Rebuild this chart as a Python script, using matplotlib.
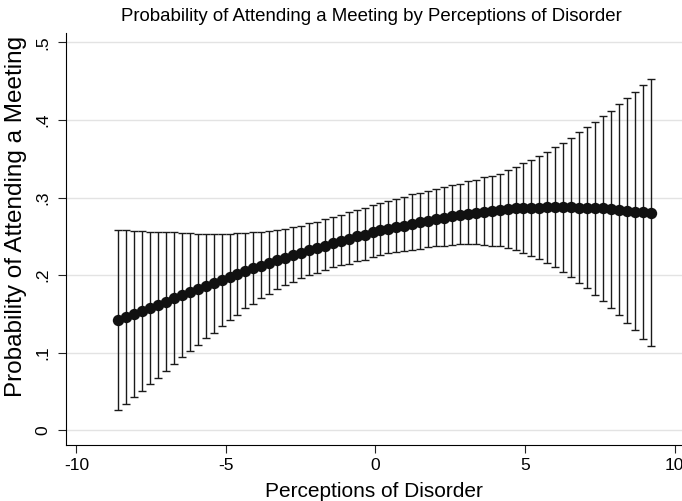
import numpy as np
import matplotlib.pyplot as plt

plt.rcParams['font.family'] = ['Liberation Sans', 'DejaVu Sans']

# Perceptions of disorder grid (68 evaluation points from -8.6 to 9.2)
disorder = np.linspace(-8.6, 9.2, 68)

# Predicted probability of attending a meeting
prob = [0.142, 0.146, 0.150, 0.154, 0.158, 0.162, 0.166, 0.170, 0.174, 0.178,
        0.182, 0.186, 0.190, 0.194, 0.198, 0.202, 0.205, 0.209, 0.212, 0.216,
        0.219, 0.222, 0.226, 0.229, 0.232, 0.235, 0.238, 0.241, 0.244, 0.247,
        0.250, 0.252, 0.255, 0.258, 0.260, 0.262, 0.264, 0.266, 0.268, 0.270,
        0.272, 0.274, 0.276, 0.277, 0.279, 0.280, 0.281, 0.283, 0.284, 0.285,
        0.286, 0.286, 0.287, 0.287, 0.288, 0.288, 0.288, 0.288, 0.287, 0.287,
        0.286, 0.286, 0.285, 0.284, 0.283, 0.282, 0.281, 0.280]

# Upper confidence bound
upper = [0.258, 0.258, 0.257, 0.257, 0.256, 0.256, 0.255, 0.255, 0.254, 0.254,
         0.253, 0.253, 0.253, 0.253, 0.253, 0.254, 0.254, 0.255, 0.256, 0.257,
         0.258, 0.260, 0.262, 0.264, 0.267, 0.269, 0.272, 0.275, 0.278, 0.281,
         0.284, 0.287, 0.290, 0.293, 0.296, 0.298, 0.301, 0.304, 0.306, 0.309,
         0.311, 0.314, 0.316, 0.318, 0.321, 0.323, 0.326, 0.328, 0.331, 0.335,
         0.339, 0.344, 0.349, 0.354, 0.359, 0.365, 0.371, 0.377, 0.384, 0.391,
         0.398, 0.405, 0.412, 0.421, 0.428, 0.436, 0.445, 0.453]

# Lower confidence bound
lower = [0.026, 0.034, 0.043, 0.051, 0.059, 0.068, 0.077, 0.085, 0.094, 0.102,
         0.110, 0.119, 0.126, 0.134, 0.142, 0.149, 0.157, 0.163, 0.170, 0.176,
         0.182, 0.187, 0.191, 0.196, 0.200, 0.203, 0.207, 0.210, 0.213, 0.215,
         0.218, 0.220, 0.223, 0.226, 0.228, 0.230, 0.231, 0.233, 0.234, 0.236,
         0.237, 0.238, 0.239, 0.240, 0.240, 0.240, 0.239, 0.238, 0.237, 0.235,
         0.232, 0.229, 0.225, 0.221, 0.216, 0.210, 0.204, 0.197, 0.190, 0.183,
         0.175, 0.167, 0.158, 0.148, 0.138, 0.129, 0.118, 0.108]

xticks = [-10, -5, 0, 5, 10]
yticks = [0, 0.1, 0.2, 0.3, 0.4, 0.5]
ylabels = ['0', '.1', '.2', '.3', '.4', '.5']

fig = plt.figure(figsize=(6.82, 5.01), dpi=100)
ax = fig.add_axes([0.0963, 0.1118, 0.9037, 0.822])

prob = np.array(prob)
err = [prob - np.array(lower), np.array(upper) - prob]
ax.errorbar(disorder, prob, yerr=err, fmt='none', ecolor='#1a1a1a',
            elinewidth=1.0, capsize=3.2, capthick=1.0, zorder=2)
ax.plot(disorder, prob, color='#111111', lw=2.5, marker='o', ms=8.2,
        markeredgewidth=0, zorder=3)

ax.set_xlim(-10.36, 10.25)
ax.set_ylim(-0.019, 0.512)
ax.set_xticks(xticks)
ax.set_xticklabels([str(t) for t in xticks], fontsize=12.5)
ax.set_yticks(yticks)
ax.set_yticklabels(ylabels, fontsize=12.5, rotation=90, va='center')
ax.tick_params(length=6, width=0.8, color='#222222')
ax.tick_params(axis='y', pad=5)
ax.grid(axis='y', color='#e3e3e3', lw=1)
ax.set_axisbelow(True)
for s in ['top', 'right']:
    ax.spines[s].set_visible(False)

ax.set_xlabel('Perceptions of Disorder', fontsize=15, labelpad=6)
ax.set_ylabel('Probability of Attending a Meeting', fontsize=17.5)
ax.yaxis.set_label_coords(-0.062, 0.556)
fig.text(0.544, 0.967, 'Probability of Attending a Meeting by Perceptions of Disorder',
         ha='center', va='center', fontsize=13.4)

fig.savefig('out.png', dpi=100)
